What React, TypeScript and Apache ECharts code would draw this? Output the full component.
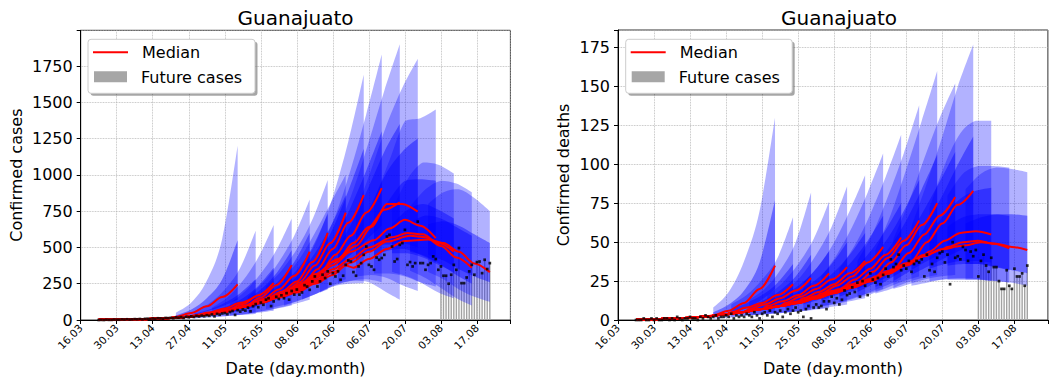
import React, { useEffect, useRef } from "react";
import * as echarts from "echarts";

const FONT = "DejaVu Sans";

// ---------- axes ----------
const dateTicks = ["16.03", "30.03", "13.04", "27.04", "11.05", "25.05", "08.06", "22.06", "06.07", "20.07", "03.08", "17.08"];
const tickStepDays = 14;
const dayMax = 167;
const caseYMax = 1996;
const caseYStep = 250;
const deathYMax = 186.4;
const deathYStep = 25;

// ---------- timing (days after 16.03) ----------
const firstObsDay = 7;
const futureStartDay = 140;
const forecastEnds = [61, 68, 75, 82, 89, 96, 103, 110, 117, 124, 131, 138, 145, 152, 159];
const fanOffsets = [-24, -18, -12, -6, 0];

// ---------- observed daily confirmed cases (from day 7) ----------
const caseObs = [
  0, 1, 0, 2, 1, 1, 3,
  2, 2, 4, 3, 5, 3, 4,
  6, 5, 7, 4, 8, 9, 6,
  10, 8, 12, 11, 9, 14, 13,
  15, 12, 18, 16, 20, 14, 22,
  19, 25, 21, 28, 24, 30, 26,
  33, 29, 38, 25, 42, 36, 45,
  48, 40, 55, 62, 35, 68, 58,
  72, 65, 85, 60, 95, 110, 88,
  120, 105, 140, 150, 96, 128, 160,
  145, 170, 150, 185, 140, 200, 175,
  210, 175, 190, 240, 230, 208, 266,
  300, 231, 266, 312, 289, 335, 250,
  323, 300, 335, 277, 305, 380, 410,
  403, 330, 305, 369, 392, 449, 506,
  380, 369, 346, 430, 415, 427, 449,
  575, 587, 506, 403, 420, 518, 530,
  621, 380, 399, 369, 392, 678, 392,
  392, 346, 380, 392, 438, 420, 346,
  369, 305, 305, 250, 312, 380, 346,
  496, 254, 254, 293, 335, 380, 312,
  399, 403, 323, 415, 351, 392,
];

// ---------- observed daily confirmed deaths (from day 7) ----------
const deathObs = [
  0, 0, 0, 1, 0, 0, 1,
  0, 1, 0, 0, 1, 1, 0,
  1, 0, 2, 1, 0, 1, 1,
  2, 1, 1, 0, 2, 1, 3,
  2, 1, 2, 3, 1, 2, 2,
  3, 2, 4, 1, 3, 2, 3,
  2, 4, 3, 2, 5, 3, 1,
  4, 5, 3, 6, 2, 5, 4,
  6, 2, 5, 7, 4, 6, 8,
  5, 6, 2, 7, 9, 1, 8,
  10, 8, 9, 12, 7, 12, 15,
  11, 14, 10, 13, 19, 16, 17,
  21, 18, 24, 15, 25, 22, 16,
  30, 26, 24, 27, 23, 29, 33,
  28, 39, 34, 36, 42, 32, 35,
  33, 38, 31, 36, 38, 37, 39,
  28, 42, 32, 36, 31, 40, 43,
  44, 37, 42, 23, 50, 40, 41,
  39, 47, 45, 38, 44, 41, 45,
  28, 38, 42, 35, 31, 40, 34,
  34, 25, 20, 20, 32, 22, 20,
  33, 28, 28, 30, 22, 35,
];

// ---------- cases: median fits ----------
const caseFitEarly = [[7, 1], [14, 2], [21, 4], [28, 8], [35, 14], [42, 23], [49, 38], [56, 58], [63, 90]];
const caseMedLate = [
  [], [], [], [], [], [],
  [[70, 130]],
  [[70, 125], [77, 175]],
  [[70, 124], [77, 172], [84, 240]],
  [[70, 122], [77, 168], [84, 228], [91, 315]],
  [[70, 120], [77, 165], [84, 215], [91, 295], [98, 400]],
  [[70, 120], [77, 163], [84, 210], [91, 285], [98, 378], [105, 470]],
  [[70, 118], [77, 160], [84, 205], [91, 270], [98, 350], [105, 420], [112, 500]],
  [[70, 117], [77, 158], [84, 200], [91, 260], [98, 330], [105, 395], [112, 470], [119, 540]],
  [[70, 115], [77, 155], [84, 190], [91, 250], [98, 310], [103, 375], [106, 360], [112, 420], [119, 490], [126, 545]],
];
const caseMedFan = [
  [22, 48, 94, 158, 245], [32, 52, 80, 118, 165], [48, 72, 110, 170, 255], [68, 100, 155, 240, 378],
  [98, 145, 210, 305, 470], [145, 195, 265, 400, 600], [185, 258, 375, 530, 740], [235, 350, 490, 670, 862],
  [320, 450, 580, 740, 908], [420, 530, 640, 760, 810], [510, 640, 800, 800, 747], [550, 630, 690, 650, 564],
  [570, 600, 590, 530, 470], [580, 570, 510, 430, 360], [555, 530, 470, 390, 330],
];
const caseHi95 = [
  [50, 120, 270, 560, 1200], [60, 115, 210, 360, 615], [85, 155, 270, 430, 655], [115, 200, 320, 480, 700],
  [160, 260, 400, 580, 830], [230, 340, 490, 690, 965], [290, 420, 600, 800, 1000], [360, 560, 850, 1230, 1690],
  [480, 720, 1040, 1420, 1830], [620, 900, 1230, 1580, 1900], [750, 1040, 1350, 1600, 1800], [820, 1100, 1370, 1390, 1450],
  [760, 970, 1085, 1070, 1010], [780, 900, 960, 940, 880], [800, 880, 900, 840, 750],
];
const caseHi50 = [
  [32, 72, 150, 280, 550], [42, 72, 118, 185, 280], [60, 95, 150, 235, 360], [85, 135, 210, 320, 480],
  [120, 180, 270, 400, 600], [175, 245, 345, 500, 730], [220, 320, 460, 640, 860], [280, 430, 630, 890, 1180],
  [380, 560, 780, 1030, 1300], [500, 690, 920, 1160, 1350], [600, 800, 1020, 1160, 1250], [660, 830, 960, 970, 960],
  [660, 760, 800, 760, 700], [670, 720, 700, 640, 580], [660, 680, 650, 590, 530],
];
const caseLo50 = [
  [15, 32, 60, 95, 140], [24, 36, 52, 74, 100], [36, 52, 75, 110, 160], [52, 75, 112, 165, 250],
  [75, 110, 160, 225, 320], [115, 155, 205, 290, 420], [150, 205, 290, 400, 540], [195, 280, 380, 500, 620],
  [265, 360, 450, 550, 650], [340, 410, 470, 520, 520], [410, 480, 540, 530, 500], [440, 480, 490, 450, 400],
  [460, 460, 430, 380, 330], [470, 440, 380, 310, 250], [450, 410, 350, 300, 260],
];
const caseLo95 = [
  [6, 14, 26, 42, 60], [12, 18, 26, 34, 42], [20, 28, 38, 50, 64], [30, 42, 58, 78, 100],
  [45, 62, 84, 110, 140], [75, 100, 130, 170, 210], [100, 135, 175, 230, 280], [140, 185, 230, 250, 254],
  [190, 240, 270, 280, 260], [250, 270, 260, 200, 140], [300, 310, 290, 240, 200], [320, 320, 300, 260, 230],
  [330, 300, 250, 190, 150], [340, 290, 220, 150, 100], [330, 280, 210, 160, 125],
];

// ---------- deaths: median fits ----------
const deathFitEarly = [[7, 0.3], [14, 0.5], [21, 1], [28, 1.5], [35, 2.4], [42, 3.7], [49, 5.2], [56, 7], [63, 9]];
const deathMedLate = [
  [], [], [], [], [],
  [[70, 12]],
  [[70, 11.8], [77, 15.5]],
  [[70, 11.5], [77, 15], [84, 19]],
  [[70, 11.3], [77, 14.5], [84, 18.5], [91, 23]],
  [[70, 11.2], [77, 14.3], [84, 18], [91, 22], [98, 26.5]],
  [[70, 11.2], [77, 14.2], [84, 17.8], [91, 21.7], [98, 26], [105, 31.5]],
  [[70, 11.1], [77, 14.1], [84, 17.6], [91, 21.4], [98, 25.6], [105, 31], [112, 36.5]],
  [[70, 11], [77, 14], [84, 17.5], [91, 21.2], [98, 25.3], [105, 30.5], [112, 36], [119, 42]],
  [[70, 11], [77, 13.9], [84, 17.3], [91, 21], [98, 25], [105, 30], [112, 35.5], [119, 41.5], [126, 45.5]],
  [[70, 10.9], [77, 13.8], [84, 17.2], [91, 20.8], [98, 24.8], [105, 29.7], [112, 35], [119, 41], [126, 45.5], [133, 47.5]],
];
const deathMedFan = [
  [3, 6, 11, 20, 35], [5, 8, 11, 16, 23], [7, 10, 14, 19, 27], [9, 12, 16, 22, 30],
  [11, 15, 20, 26, 34], [14, 18, 23, 30, 38], [17, 22, 28, 37, 47], [20, 26, 33, 42, 53],
  [24, 31, 40, 51, 64], [28, 37, 48, 61, 75], [33, 43, 55, 67, 79], [38, 50, 62, 74, 83],
  [44, 51, 56, 57, 55], [47, 50, 51, 49, 46], [48, 50, 49, 47, 45],
];
const deathHi95 = [
  [8, 18, 38, 70, 130], [10, 16, 26, 40, 66], [13, 20, 32, 50, 82], [16, 24, 36, 52, 76],
  [19, 28, 42, 60, 86], [24, 35, 50, 70, 93], [28, 42, 60, 82, 107], [33, 48, 68, 92, 119],
  [38, 56, 80, 107, 138], [45, 68, 97, 128, 160], [52, 76, 104, 130, 152], [60, 88, 118, 150, 177],
  [72, 100, 120, 128, 128], [80, 94, 99, 99, 98], [84, 94, 98, 97, 95],
];
const deathHi50 = [
  [5, 10, 19, 37, 77], [7, 11, 16, 24, 36], [9, 13, 19, 28, 42], [12, 16, 22, 31, 44],
  [14, 19, 26, 36, 50], [18, 23, 31, 42, 56], [21, 28, 38, 51, 67], [25, 33, 44, 58, 75],
  [30, 40, 53, 70, 90], [35, 48, 64, 84, 106], [40, 54, 71, 89, 108], [46, 62, 80, 100, 118],
  [56, 68, 78, 83, 85], [60, 66, 68, 68, 67], [62, 66, 68, 68, 67],
];
const deathLo50 = [
  [2, 4, 7, 12, 20], [3.5, 5.5, 7.5, 10, 13], [5, 7, 9.5, 12.5, 16], [6.5, 8.5, 11, 14, 18],
  [8, 10.5, 13.5, 17, 21], [10, 13, 16.5, 21, 26], [12.5, 16, 20, 26, 32], [15, 19, 24, 30, 37],
  [18, 23, 28, 34, 41], [21, 27, 33, 39, 46], [25, 31, 37, 42, 47], [29, 34, 39, 44, 48],
  [33, 36, 38, 38, 37], [35, 36, 36, 34, 32], [36, 36, 34, 32, 30],
];
const deathLo95 = [
  [1, 1.5, 2.5, 3.5, 5], [2, 3, 3.5, 4.5, 5.5], [3, 3.5, 4.5, 5.5, 6.5], [4, 4.5, 5.5, 6.5, 7.5],
  [5, 6, 7, 8.5, 10], [7, 8.5, 10, 12, 14], [9, 11, 14, 17, 20], [11, 14, 18, 22, 26],
  [14, 17, 21, 25, 28], [17, 20, 24, 27, 29], [20, 23, 26, 28, 29], [22, 24, 26, 27, 27],
  [25, 26, 26, 26, 25], [26, 26, 26, 25, 24], [26, 26, 25, 24, 22],
];

// ---------- helpers ----------
const BAND_OUTER = "rgba(0,0,255,0.3)";
const BAND_INNER = "rgba(0,0,255,0.42)";

function fanDays(k: number) {
  return fanOffsets.map((o) => forecastEnds[k] + o);
}

// Catmull-Rom -> cubic bezier segments through pixel points (rendering only)
function curveThrough(pts: number[][], first: boolean) {
  let d = first ? `M${pts[0][0]},${pts[0][1]}` : `L${pts[0][0]},${pts[0][1]}`;
  const n = pts.length;
  for (let i = 0; i < n - 1; i++) {
    const p0 = pts[Math.max(i - 1, 0)];
    const p1 = pts[i];
    const p2 = pts[i + 1];
    const p3 = pts[Math.min(i + 2, n - 1)];
    const c1x = p1[0] + (p2[0] - p0[0]) / 6;
    let c1y = p1[1] + (p2[1] - p0[1]) / 6;
    const c2x = p2[0] - (p3[0] - p1[0]) / 6;
    let c2y = p2[1] - (p3[1] - p1[1]) / 6;
    const lo = Math.min(p1[1], p2[1]);
    const hi = Math.max(p1[1], p2[1]);
    c1y = Math.min(Math.max(c1y, lo), hi);
    c2y = Math.min(Math.max(c2y, lo), hi);
    d += ` C${c1x},${c1y} ${c2x},${c2y} ${p2[0]},${p2[1]}`;
  }
  return d;
}

function bandSeries(p: number, lo: number[][], hi: number[][], fill: string) {
  return {
    type: "custom", xAxisIndex: p, yAxisIndex: p, silent: true, z: 2,
    data: forecastEnds.map((_, k) => [k]),
    encode: { x: -1, y: -1 },
    renderItem: (params: any, api: any) => {
      const k = api.value(0);
      const days = fanDays(k);
      const up = days.map((d, i) => api.coord([d, hi[k][i]]));
      const dn = days.map((d, i) => api.coord([d, lo[k][i]])).reverse();
      const pathData = curveThrough(up, true) + " " + curveThrough(dn, false) + " Z";
      return { type: "path", shape: { pathData }, style: { fill, stroke: "none" } };
    },
  };
}

function medianPoints(k: number, early: number[][], late: number[][][], fan: number[][]) {
  const days = fanDays(k);
  const firstOwn = late[k].length ? late[k][0][0] : days[0];
  return early
    .filter((q) => q[0] < firstOwn)
    .concat(late[k])
    .concat(days.map((d, i) => [d, fan[k][i]]));
}

function plotSeries(
  p: number, obs: number[], early: number[][], late: number[][][], med: number[][],
  hi95: number[][], hi50: number[][], lo50: number[][], lo95: number[][]
) {
  const s: any[] = [];
  const obsPts = obs.map((v, i) => [firstObsDay + i, v]);
  s.push({
    type: "bar", xAxisIndex: p, yAxisIndex: p, silent: true, z: 1, barWidth: 1.4,
    itemStyle: { color: "#a3a3a3" },
    data: obsPts.filter((q) => q[0] >= futureStartDay),
  });
  s.push(bandSeries(p, lo95, hi95, BAND_OUTER));
  s.push(bandSeries(p, lo50, hi50, BAND_INNER));
  forecastEnds.forEach((_, k) => {
    s.push({
      type: "line", xAxisIndex: p, yAxisIndex: p, symbol: "none", silent: true, z: 4,
      smooth: 0.3, smoothMonotone: "x",
      lineStyle: { color: "#ff0000", width: 2 },
      data: medianPoints(k, early, late, med),
    });
  });
  s.push({
    type: "scatter", xAxisIndex: p, yAxisIndex: p, silent: true, z: 5,
    symbol: "rect", symbolSize: 2.7, itemStyle: { color: "#000" },
    data: obsPts,
  });
  return s;
}

function xAxisCfg(p: number) {
  return {
    gridIndex: p, type: "value", min: 0, max: dayMax, interval: tickStepDays,
    name: "Date (day.month)", nameLocation: "middle", nameGap: 40,
    nameTextStyle: { fontSize: 16, color: "#000", fontFamily: FONT },
    axisLine: { show: true, lineStyle: { color: "#000", width: 1 } },
    axisTick: { show: true, length: 4, lineStyle: { color: "#000" } },
    axisLabel: {
      rotate: 45, fontSize: 10.5, color: "#000", fontFamily: FONT, margin: 6,
      formatter: (v: number) => (v % tickStepDays === 0 ? dateTicks[v / tickStepDays] ?? "" : ""),
    },
    splitLine: { show: true, lineStyle: { color: "#b0b0b0", type: "dotted", width: 0.8 } },
  };
}

function yAxisCfg(p: number, name: string, max: number, step: number, gap: number) {
  return {
    gridIndex: p, type: "value", min: 0, max, interval: step,
    name, nameLocation: "middle", nameGap: gap,
    nameTextStyle: { fontSize: 16, color: "#000", fontFamily: FONT },
    axisLine: { show: true, lineStyle: { color: "#000", width: 1 } },
    axisTick: { show: true, length: 4, lineStyle: { color: "#000" } },
    axisLabel: {
      fontSize: 16, color: "#000", fontFamily: FONT, margin: 8,
      formatter: (v: number) => (Math.abs(v % step) < 1e-9 ? String(v) : ""),
    },
    splitLine: { show: true, lineStyle: { color: "#b0b0b0", type: "dotted", width: 0.8 } },
  };
}

function legendGraphic(x0: number, y0: number, w: number) {
  const h = 54;
  return [
    { type: "rect", z: 100, shape: { x: x0 + 2.5, y: y0 + 2.5, width: w, height: h, r: 3 }, style: { fill: "rgba(0,0,0,0.35)" } },
    { type: "rect", z: 101, shape: { x: x0, y: y0, width: w, height: h, r: 3 }, style: { fill: "#ffffff", stroke: "#cccccc", lineWidth: 1 } },
    { type: "line", z: 102, shape: { x1: x0 + 5, y1: y0 + 13, x2: x0 + 40, y2: y0 + 13 }, style: { stroke: "#ff0000", lineWidth: 2 } },
    { type: "text", z: 102, x: x0 + 54, y: y0 + 13, style: { text: "Median", fontSize: 16, fontFamily: FONT, fill: "#000", textVerticalAlign: "middle" } },
    { type: "rect", z: 102, shape: { x: x0 + 6, y: y0 + 32, width: 33, height: 11 }, style: { fill: "#a6a6a6" } },
    { type: "text", z: 102, x: x0 + 53, y: y0 + 38, style: { text: "Future cases", fontSize: 16, fontFamily: FONT, fill: "#000", textVerticalAlign: "middle" } },
  ];
}

export default function App() {
  const ref = useRef<HTMLDivElement>(null);
  useEffect(() => {
    if (!ref.current) return;
    const chart = echarts.init(ref.current, undefined, { renderer: "svg" });
    const leftGrid = { left: 80.7, top: 30.3, width: 429.7, height: 290 };
    const rightGrid = { left: 618, top: 30, width: 442.1, height: 290 };
    const option: any = {
      animation: false,
      textStyle: { fontFamily: FONT },
      grid: [
        { ...leftGrid, show: true, borderColor: "#333", borderWidth: 1, backgroundColor: "transparent" },
        { ...rightGrid, show: true, borderColor: "#333", borderWidth: 1, backgroundColor: "transparent" },
      ],
      xAxis: [xAxisCfg(0), xAxisCfg(1)],
      yAxis: [
        yAxisCfg(0, "Confirmed cases", caseYMax, caseYStep, 56),
        yAxisCfg(1, "Confirmed deaths", deathYMax, deathYStep, 47),
      ],
      series: [
        ...plotSeries(0, caseObs, caseFitEarly, caseMedLate, caseMedFan, caseHi95, caseHi50, caseLo50, caseLo95),
        ...plotSeries(1, deathObs, deathFitEarly, deathMedLate, deathMedFan, deathHi95, deathHi50, deathLo50, deathLo95),
      ],
      graphic: [
        { type: "text", z: 100, x: leftGrid.left + leftGrid.width / 2, y: 18, style: { text: "Guanajuato", fontSize: 20, fontFamily: FONT, fill: "#000", textAlign: "center", textVerticalAlign: "middle" } },
        { type: "text", z: 100, x: rightGrid.left + rightGrid.width / 2, y: 18, style: { text: "Guanajuato", fontSize: 20, fontFamily: FONT, fill: "#000", textAlign: "center", textVerticalAlign: "middle" } },
        ...legendGraphic(88, 39.3, 167),
        ...legendGraphic(625.7, 39.3, 166.5),
      ],
    };
    chart.setOption(option);
    return () => chart.dispose();
  }, []);
  return <div ref={ref} style={{ position: "absolute", left: 0, top: 0, width: 1050, height: 381, background: "#fff" }} />;
}
